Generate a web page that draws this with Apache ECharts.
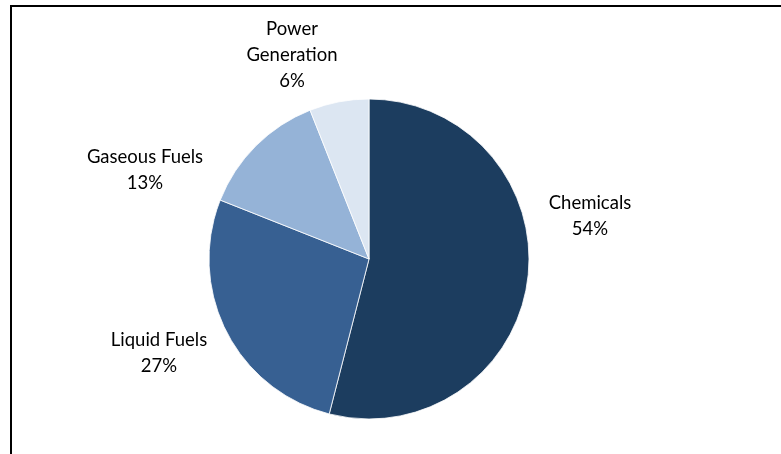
<!DOCTYPE html>
<html>
<head>
<meta charset="utf-8">
<script src="https://cdn.jsdelivr.net/npm/echarts@6/dist/echarts.min.js"></script>
<style>
  html, body { margin: 0; padding: 0; background: #fff; }
  #chart { width: 781px; height: 454px; }
</style>
</head>
<body>
<div id="chart"></div>
<script>
// Pie data (percent share)
const categories = ['Chemicals', 'Liquid Fuels', 'Gaseous Fuels', 'Power Generation']
const shares = [54, 27, 13, 6]
const labelNames = ['Chemicals', 'Liquid Fuels', 'Gaseous Fuels', 'Power\nGeneration']
const colors = ['#1c3d5f', '#376092', '#95b3d7', '#dce6f2']

// Label anchor points (Excel "best fit" placement)
const labelSpots = [[590, 216], [159, 353], [145, 170], [292, 55]]

const chart = echarts.init(document.getElementById('chart'))

chart.setOption({
  animation: false,
  backgroundColor: '#fff',
  textStyle: { fontFamily: 'Lato, "Noto Sans", sans-serif' },
  graphic: [
    {
      type: 'rect',
      shape: { x: 11, y: 6, width: 820, height: 500 },
      style: { fill: 'none', stroke: '#000', lineWidth: 2 },
      silent: true
    }
  ],
  series: [
    {
      type: 'pie',
      center: [369, 259],
      radius: 160,
      startAngle: 90,
      clockwise: true,
      avoidLabelOverlap: false,
      itemStyle: { borderColor: '#ffffff', borderWidth: 0.8 },
      label: {
        show: true,
        position: 'outside',
        color: '#000',
        fontSize: 18.5,
        lineHeight: 26,
        align: 'center',
        formatter: (p) => labelNames[p.dataIndex] + '\n' + p.value + '%'
      },
      labelLine: { show: false },
      labelLayout: (params) => ({
        x: labelSpots[params.dataIndex][0],
        y: labelSpots[params.dataIndex][1],
        align: 'center',
        verticalAlign: 'middle'
      }),
      data: categories.map((name, i) => ({
        name: name,
        value: shares[i],
        itemStyle: { color: colors[i] }
      }))
    }
  ]
})
</script>
</body>
</html>
